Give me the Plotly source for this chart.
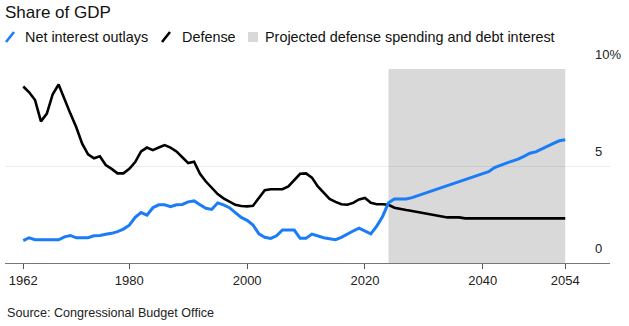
import plotly.graph_objects as go

# Historical and projected outlays, share of GDP (%)
years = list(range(1962, 2055))

net_interest = [
    1.15, 1.3, 1.2, 1.2, 1.2, 1.2, 1.2, 1.35, 1.42, 1.3,      # 1962-1971
    1.3, 1.3, 1.4, 1.42, 1.48, 1.53, 1.62, 1.75, 1.95, 2.35,  # 1972-1981
    2.6, 2.47, 2.85, 3.0, 3.0, 2.9, 3.0, 3.02, 3.15, 3.2,     # 1982-1991
    3.0, 2.82, 2.76, 3.1, 3.0, 2.85, 2.6, 2.35, 2.2, 1.96,    # 1992-2001
    1.5, 1.33, 1.27, 1.4, 1.7, 1.7, 1.7, 1.27, 1.27, 1.49,    # 2002-2011
    1.38, 1.3, 1.25, 1.2, 1.32, 1.5, 1.65, 1.8, 1.65, 1.5,    # 2012-2021
    1.9, 2.4, 3.1, 3.3, 3.3, 3.3, 3.37, 3.47, 3.58, 3.68,     # 2022-2031
    3.78, 3.89, 3.99, 4.09, 4.2, 4.3, 4.4, 4.5, 4.61, 4.71,   # 2032-2041
    4.92, 5.05, 5.15, 5.25, 5.35, 5.5, 5.66, 5.73, 5.88, 6.05, # 2042-2051
    6.17, 6.3, 6.35,                                           # 2052-2054
]

defense = [
    9.1, 8.8, 8.4, 7.3, 7.7, 8.7, 9.2, 8.4, 7.7, 7.0,         # 1962-1971
    6.15, 5.6, 5.4, 5.5, 5.05, 4.85, 4.62, 4.62, 4.85, 5.2,   # 1972-1981
    5.75, 5.95, 5.82, 5.95, 6.08, 5.95, 5.75, 5.45, 5.15, 5.22, # 1982-1991
    4.6, 4.2, 3.85, 3.55, 3.33, 3.15, 3.0, 2.94, 2.92, 2.95,  # 1992-2001
    3.35, 3.75, 3.8, 3.8, 3.8, 3.95, 4.3, 4.6, 4.62, 4.4,     # 2002-2011
    3.95, 3.65, 3.3, 3.15, 3.03, 3.0, 3.1, 3.28, 3.35, 3.1,   # 2012-2021
    3.03, 3.03, 3.0, 2.85, 2.78, 2.73, 2.68, 2.62, 2.55, 2.5, # 2022-2031
    2.45, 2.38, 2.35, 2.35, 2.35, 2.3, 2.3, 2.3, 2.3, 2.3,    # 2032-2041
    2.3, 2.3, 2.3, 2.3, 2.3, 2.3, 2.3, 2.3, 2.3, 2.3,         # 2042-2051
    2.3, 2.3, 2.3,                                             # 2052-2054
]

projection_start = 2024
projection_end = 2054

x_tickvals = [1962, 1980, 2000, 2020, 2040, 2054]
y_tickvals = [0, 5, 10]
y_ticktext = ["0", "5", "10%"]

legend_names = ["Net interest outlays", "Defense",
                "Projected defense spending and debt interest"]

BLUE = "#1a7cf6"
BLACK = "#000000"
SHADE = "#d9d9d9"
FONT = "Liberation Sans, Arial, sans-serif"

W, H = 629, 326
ML, MR, MT, MB = 5, 19, 69, 63
PW, PH = W - ML - MR, H - MT - MB


def px_x(px):
    """Pixel column -> paper x."""
    return (px - ML) / PW


def px_y(py):
    """Pixel row -> paper y."""
    return (H - MB - py) / PH


fig = go.Figure()

fig.add_trace(go.Scatter(
    x=years, y=defense, mode="lines", name=legend_names[1],
    line=dict(color=BLACK, width=2.6), showlegend=False,
))
fig.add_trace(go.Scatter(
    x=years, y=net_interest, mode="lines", name=legend_names[0],
    line=dict(color=BLUE, width=3), showlegend=False,
))
# Carrier for the right-hand label axis
fig.add_trace(go.Scatter(x=[None], y=[None], yaxis="y2", showlegend=False,
                         hoverinfo="skip"))

# Projection window
fig.add_vrect(x0=projection_start, x1=projection_end, y0=0, y1=1,
              fillcolor=SHADE, opacity=1, line_width=0, layer="below")

# Key row: slash keys for the lines, square key for the shaded window
key_y0, key_y1 = 42, 32
for left, color in ((6, BLUE), (162, BLACK)):
    fig.add_shape(type="line", xref="paper", yref="paper",
                  x0=px_x(left), y0=px_y(key_y0), x1=px_x(left + 8), y1=px_y(key_y1),
                  line=dict(color=color, width=2.6))
fig.add_shape(type="rect", xref="paper", yref="paper",
              x0=px_x(248), y0=px_y(42), x1=px_x(258), y1=px_y(32),
              fillcolor=SHADE, line_width=0)
for left, name in zip((23, 180, 263), legend_names):
    fig.add_annotation(text=name, xref="paper", yref="paper",
                       x=px_x(left), xanchor="left", y=px_y(37), yanchor="middle",
                       showarrow=False, font=dict(family=FONT, size=14.4, color="#111"))

fig.update_layout(
    width=W, height=H,
    margin=dict(l=ML, r=MR, t=MT, b=MB, autoexpand=False),
    paper_bgcolor="white", plot_bgcolor="white",
    font=dict(family=FONT, size=13, color="#222"),
    title=dict(text="Share of GDP", x=5 / W, xanchor="left", xref="container",
               y=1 - 12 / H, yanchor="middle", yref="container",
               font=dict(family=FONT, size=17, color="#111")),
    showlegend=False,
    xaxis=dict(
        range=[1958.9, 2061.6], tickvals=x_tickvals, showgrid=False, zeroline=False,
        showline=True, linecolor="#777", linewidth=1,
        ticks="outside", ticklen=5, tickcolor="#555", tickwidth=1,
        tickfont=dict(family=FONT, size=13, color="#222"),
    ),
    yaxis=dict(
        range=[0, 10], tickvals=y_tickvals, showticklabels=False,
        showgrid=True, gridcolor="rgba(0,0,0,0.07)", gridwidth=1,
        zeroline=False, showline=False, fixedrange=True,
    ),
    yaxis2=dict(
        range=[0, 10], tickvals=y_tickvals, ticktext=y_ticktext,
        overlaying="y", side="right", anchor="free", position=px_x(594),
        showgrid=False, zeroline=False, showline=False, ticks="",
        ticklabelposition="outside top", ticklabelshift=-5,
        tickfont=dict(family=FONT, size=13, color="#222"),
    ),
)

fig.add_annotation(text="Source: Congressional Budget Office", xref="paper", yref="paper",
                   x=0, xanchor="left", y=px_y(313), yanchor="middle",
                   showarrow=False, font=dict(family=FONT, size=12.6, color="#222"))

fig.write_html("out.html")
